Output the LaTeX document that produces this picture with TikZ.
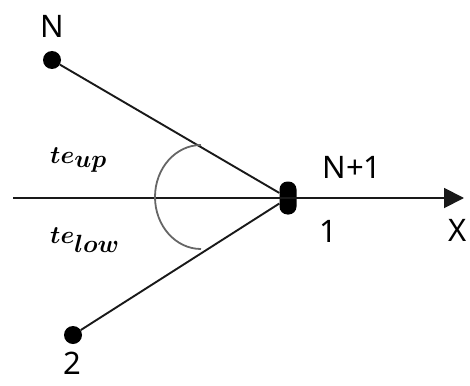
\documentclass[tikz,border=0pt]{standalone}
\usepackage{fontspec}
\setmainfont{Noto Sans}
\usetikzlibrary{arrows.meta}
\begin{document}
\begin{tikzpicture}[x=1pt,y=-1pt,
  dot/.style={circle,fill=black,inner sep=0pt,minimum size=18pt},
  seg/.style={line width=1.9pt,black!90},
  lbl/.style={font=\fontsize{31}{36}\selectfont,inner sep=0pt},
  mlbl/.style={font=\fontsize{35}{40}\selectfont\boldmath,inner sep=0pt}]
\useasboundingbox (0,0) rectangle (470,385);
\coordinate (xs) at (13,198);
\coordinate (xe) at (464,198);
\node[dot] (nN) at (52,60) {};
\node[dot] (n2) at (73,335) {};
\node[rectangle,rounded corners=8pt,fill=black,minimum width=17pt,minimum height=33pt,inner sep=0pt] (c) at (288,198) {};
\draw[seg] (nN) -- (c);
\draw[seg] (n2) -- (c);
\draw[seg,-{Triangle[length=20pt,width=20pt]}] (xs) -- (xe);
\draw[line width=1.8pt,black!60] (201,145) arc[start angle=90,end angle=270,x radius=46pt,y radius=52pt];
\node[lbl] (tN) at (52,26) {N};
\node[lbl] (t2) at (72,363) {2};
\node[lbl] (tN1) at (352,167) {N+1};
\node[lbl] (t1) at (328,231) {1};
\node[lbl] (tX) at (458,230) {X};
\node[mlbl,anchor=west] (tup) at (50,160) {$te_{up}$};
\node[mlbl,anchor=west] (tlow) at (50,240) {$te_{low}$};
\end{tikzpicture}
\end{document}
